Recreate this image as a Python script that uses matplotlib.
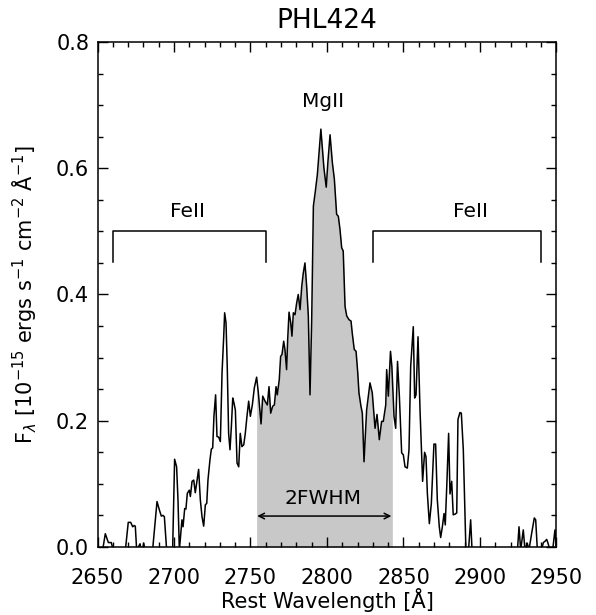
import numpy as np
import matplotlib
matplotlib.use("Agg")
from matplotlib import pyplot as plt
from matplotlib.ticker import MultipleLocator

# spectrum (wavelength in A, flux in 1e-15 units)
wave = [2650, 2653, 2655.1, 2657.1, 2659, 2660.3, 2664, 2668, 2670.1, 2671.7, 2673, 2673.9,
        2674.7, 2675.6, 2677.8, 2679, 2680.2, 2681.5, 2686, 2688.9, 2690.4, 2691.7, 2692.8,
        2693.7, 2695.2, 2699.1, 2700.4, 2701.7, 2702.6, 2703.5, 2705.2, 2705.9, 2707,
        2707.8, 2708.7, 2710, 2710.7, 2711.8, 2712.9, 2713.9, 2715, 2716.1, 2717.2, 2718.3,
        2719.4, 2720.5, 2721.4, 2722.2, 2723.5, 2724.4, 2725.3, 2726.1, 2727.2, 2728.1,
        2729.2, 2730.3, 2731.4, 2732.5, 2733.1, 2734, 2734.8, 2735.7, 2736.6, 2737.5,
        2738.4, 2739.2, 2740.1, 2741.2, 2742.3, 2743.3, 2744.4, 2745.6, 2746.6, 2747.7,
        2748.8, 2749.9, 2751.2, 2752.5, 2754, 2755.1, 2756.9, 2758, 2759.5, 2761, 2762.1,
        2763.2, 2764.5, 2765.6, 2766.7, 2767.5, 2768.8, 2769.7, 2770.6, 2771.7, 2772.5,
        2773.6, 2774.3, 2775.2, 2776.3, 2777.1, 2778, 2779.1, 2780.2, 2781.2, 2782.4,
        2783.5, 2784.5, 2785.6, 2786.7, 2787.8, 2788.9, 2790, 2791.1, 2792.4, 2793.7,
        2794.8, 2796, 2797.2, 2798, 2799.5, 2800.6, 2802, 2803.5, 2804.8, 2806.3, 2807.4,
        2808.5, 2809.6, 2810.6, 2811.8, 2812.9, 2814.4, 2815.7, 2816.5, 2817.8, 2819,
        2820.1, 2820.9, 2822.2, 2823.1, 2824.2, 2825.9, 2828.1, 2829.6, 2831.4, 2832.7,
        2834.2, 2835.7, 2836.8, 2838.4, 2839, 2840.1, 2841.5, 2842.4, 2843.8, 2844.9,
        2846.1, 2847.3, 2848.8, 2849.9, 2851, 2852.5, 2853.6, 2854.7, 2856.4, 2857.3,
        2858.2, 2859.5, 2860.8, 2862.5, 2863.8, 2864.7, 2865.6, 2866.9, 2868.2, 2869.9,
        2871, 2872.1, 2873.4, 2874.3, 2875.4, 2876.5, 2877.3, 2878.4, 2879.5, 2880.4,
        2881.5, 2882.5, 2883.7, 2884.8, 2885.6, 2886.9, 2887.8, 2889.1, 2890.8, 2892.5,
        2893.9, 2894.8, 2900, 2910, 2920, 2924.5, 2925.5, 2926.6, 2928.3, 2929.4, 2930.9,
        2932, 2933.8, 2935.5, 2936.4, 2937.5, 2940.2, 2941.4, 2942.5, 2943.6, 2944.6,
        2945.6, 2947.5, 2949, 2950]
flux = [-0.01, -0.01, 0.021, 0.007, 0.007, -0.005, -0.01, -0.01, 0.039, 0.039, 0.032, 0.034,
        0.033, -0.005, 0.005, -0.01, 0.006, -0.01, -0.005, 0.072, 0.059, 0.049, 0.050,
        0.048, -0.005, -0.005, 0.139, 0.127, 0.075, -0.005, 0.043, 0.032, 0.061,
        0.060, 0.085, 0.090, 0.080, 0.104, 0.106, 0.086, 0.104, 0.123, 0.075, 0.048,
        0.033, 0.067, 0.069, 0.106, 0.138, 0.155, 0.157, 0.207, 0.241, 0.175,
        0.174, 0.167, 0.276, 0.334, 0.371, 0.355, 0.286, 0.180, 0.154, 0.191,
        0.236, 0.228, 0.217, 0.133, 0.127, 0.180, 0.159, 0.162, 0.180, 0.207,
        0.231, 0.207, 0.225, 0.252, 0.269, 0.245, 0.195, 0.239, 0.231, 0.225, 0.254,
        0.212, 0.223, 0.225, 0.254, 0.241, 0.265, 0.302, 0.305, 0.326, 0.313,
        0.281, 0.329, 0.372, 0.355, 0.334, 0.371, 0.368, 0.387, 0.400, 0.376,
        0.413, 0.434, 0.450, 0.413, 0.366, 0.241, 0.360, 0.540, 0.564, 0.590,
        0.625, 0.662, 0.625, 0.600, 0.570, 0.610, 0.653, 0.609, 0.583, 0.527, 0.524,
        0.503, 0.474, 0.469, 0.381, 0.366, 0.360, 0.358, 0.339, 0.313, 0.310,
        0.276, 0.244, 0.223, 0.212, 0.135, 0.217, 0.260, 0.244, 0.188, 0.210,
        0.170, 0.199, 0.199, 0.225, 0.281, 0.239, 0.310, 0.286, 0.207, 0.188,
        0.294, 0.239, 0.149, 0.146, 0.127, 0.125, 0.154, 0.286, 0.349, 0.236,
        0.241, 0.333, 0.217, 0.104, 0.150, 0.143, 0.085, 0.037, 0.069, 0.163,
        0.163, 0.075, 0.032, 0.015, 0.032, 0.053, 0.035, 0.104, 0.180, 0.084,
        0.104, 0.051, 0.052, 0.054, 0.202, 0.213, 0.212, 0.154, -0.005, -0.005,
        0.043, -0.005, -0.01, -0.01, -0.01, -0.005, 0.032, -0.005, 0.027, -0.005, 0.006,
        -0.005, 0.022, 0.046, 0.043, -0.005, -0.005, 0.007, 0.009, 0.012, 0.005,
        -0.005, -0.005, 0.027, -0.005]

fwhm_lo, fwhm_hi = 2754.0, 2842.7
feii_left = [2660, 2760]
feii_right = [2830, 2940]

plt.rcParams['font.family'] = ['DejaVu Sans']
fig = plt.figure(figsize=(5.96, 6.15), dpi=100)
ax = fig.add_axes([0.1636, 0.1106, 0.7701, 0.8211])

w = np.array(wave)
f = np.array(flux)
m = (w >= fwhm_lo) & (w <= fwhm_hi)
wf = np.concatenate([[fwhm_lo], w[m], [fwhm_hi]])
ff = np.interp(wf, w, f)
ax.fill_between(wf, 0, ff, color='#c8c8c8', lw=0)
ax.plot(w, f, color='black', lw=1.1)

# FeII brackets
for lo, hi in [feii_left, feii_right]:
    ax.plot([lo, lo, hi, hi], [0.452, 0.5, 0.5, 0.452], color='black', lw=1.1)
ax.text(2709, 0.522, 'FeII', ha='center', va='baseline', fontsize=14.5)
ax.text(2893.5, 0.522, 'FeII', ha='center', va='baseline', fontsize=14.5)
ax.text(2797.5, 0.697, 'MgII', ha='center', va='baseline', fontsize=14.5)

# 2FWHM arrow
ax.annotate('', xy=(2752.6, 0.049), xytext=(2843.9, 0.049),
            arrowprops=dict(arrowstyle='<->', color='black', lw=1.1))
ax.text(2797.5, 0.068, '2FWHM', ha='center', va='baseline', fontsize=14.5)

ax.set_xlim(2650, 2950)
ax.set_ylim(0, 0.8)
ax.xaxis.set_major_locator(MultipleLocator(50))
ax.xaxis.set_minor_locator(MultipleLocator(10))
ax.yaxis.set_major_locator(MultipleLocator(0.2))
ax.yaxis.set_minor_locator(MultipleLocator(0.05))
ax.tick_params(which='both', direction='in', top=True, right=True, labelsize=15, width=1)
ax.tick_params(which='major', length=7)
ax.tick_params(which='minor', length=3.6)
ax.tick_params(axis='x', which='major', pad=15)
ax.tick_params(axis='y', which='major', pad=6)
for s in ax.spines.values():
    s.set_linewidth(1.1)

ax.set_xlabel('Rest Wavelength [Å]', fontsize=15, labelpad=0)
ax.set_ylabel(r'F$_\lambda$ [10$^{-15}$ ergs s$^{-1}$ cm$^{-2}$ Å$^{-1}$]', fontsize=15, labelpad=12)
ax.set_title('PHL424', fontsize=19, pad=10)

fig.savefig('out.png', dpi=100)
